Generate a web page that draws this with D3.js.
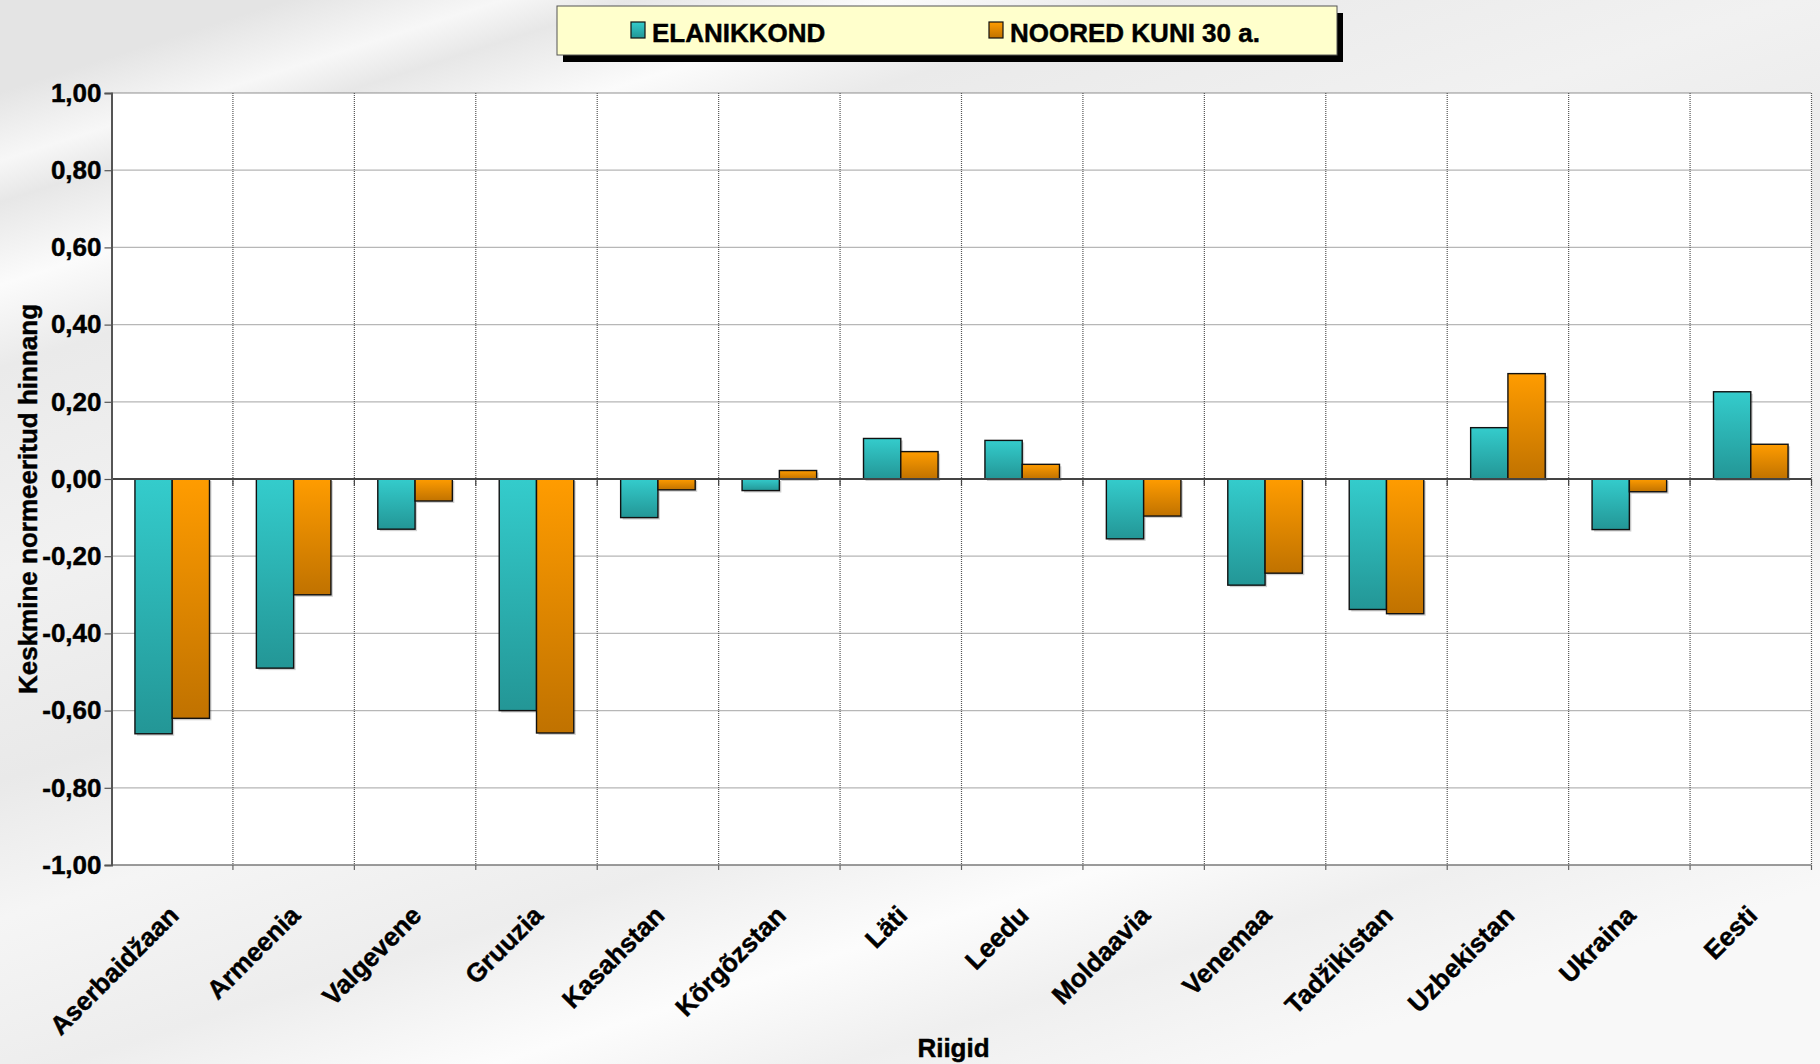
<!DOCTYPE html>
<html>
<head>
<meta charset="utf-8">
<script src="https://cdn.jsdelivr.net/npm/d3@7"></script>
<style>
  html, body { margin: 0; padding: 0; background: #f2f2f2; }
  svg { display: block; font-family: "Liberation Sans", Arial, sans-serif; }
  .lbl { stroke: #000; stroke-width: 0.45px; }
</style>
</head>
<body>
<div id="chart"></div>
<script>
const categories = ['Aserbaidžaan', 'Armeenia', 'Valgevene', 'Gruuzia', 'Kasahstan', 'Kõrgõzstan', 'Läti',
    'Leedu', 'Moldaavia', 'Venemaa', 'Tadžikistan', 'Uzbekistan', 'Ukraina', 'Eesti'];
const seriesNames = ['ELANIKKOND', 'NOORED KUNI 30 a.'];
const elanikkond = [-0.66, -0.49, -0.13, -0.60, -0.10, -0.03, 0.105, 0.10, -0.155, -0.275, -0.338, 0.133, -0.131, 0.226];
const noored = [-0.62, -0.30, -0.057, -0.658, -0.028, 0.022, 0.071, 0.038, -0.096, -0.244, -0.349, 0.273, -0.033, 0.090];
const yTicks = [-1, -0.8, -0.6, -0.4, -0.2, 0, 0.2, 0.4, 0.6, 0.8, 1];

const W = 1820, H = 1064;
const plot = { left: 111.5, right: 1811.5, top: 93, bottom: 865 };

const svg = d3.select('#chart').append('svg').attr('width', W).attr('height', H);
const defs = svg.append('defs');

// background with soft diagonal streaks
const bg = defs.append('linearGradient').attr('id', 'bg').attr('gradientUnits', 'userSpaceOnUse')
    .attr('x1', 600).attr('y1', -100).attr('x2', 1000).attr('y2', 1150);
[[0, '#e4e4e4'], [0.05, '#f7f7f7'], [0.08, '#e7e7e7'], [0.14, '#fbfbfb'], [0.2, '#eaeaea'],
 [0.35, '#f1f1f1'], [0.5, '#e9e9e9'], [0.6, '#f5f5f5'], [0.72, '#ededed'], [0.82, '#fcfcfc'],
 [0.9, '#efefef'], [1, '#f8f8f8']].forEach(s => bg.append('stop').attr('offset', s[0]).attr('stop-color', s[1]));
svg.append('rect').attr('width', W).attr('height', H).attr('fill', 'url(#bg)');

function grad(id, top, bottom) {
    const g = defs.append('linearGradient').attr('id', id).attr('x1', 0).attr('y1', 0).attr('x2', 0).attr('y2', 1);
    g.append('stop').attr('offset', 0).attr('stop-color', top);
    g.append('stop').attr('offset', 1).attr('stop-color', bottom);
}
grad('g0', '#34cccc', '#239696');
grad('g1', '#ff9c00', '#c07200');
const fills = ['url(#g0)', 'url(#g1)'];

const x = d3.scaleBand().domain(categories).range([plot.left, plot.right]).padding(0);
const bw = x.bandwidth();
const x1 = d3.scaleBand().domain(seriesNames).range([bw * 0.193, bw * 0.807]).padding(0);
const y = d3.scaleLinear().domain([-1, 1]).range([plot.bottom, plot.top]);

const loc = d3.formatLocale({ decimal: ',', thousands: ' ', grouping: [3], currency: ['', ''], minus: '-' });
const fmt = loc.format('.2f');

// plot area
svg.append('rect').attr('x', plot.left).attr('y', plot.top)
    .attr('width', plot.right - plot.left).attr('height', plot.bottom - plot.top).attr('fill', '#fff');

// horizontal grid
svg.append('g').selectAll('line').data(yTicks.filter(d => d !== 0 && d !== -1)).join('line')
    .attr('x1', plot.left).attr('x2', plot.right).attr('y1', d => y(d)).attr('y2', d => y(d))
    .attr('stroke', '#6e6e6e').attr('stroke-width', 1.3).attr('stroke-dasharray', '1,1');

// vertical grid at category boundaries
const bounds = categories.slice(1).map(c => x(c)).concat([plot.right]);
svg.append('g').selectAll('line').data(bounds).join('line')
    .attr('x1', d => d).attr('x2', d => d).attr('y1', plot.top).attr('y2', plot.bottom)
    .attr('stroke', '#555').attr('stroke-width', 1.2).attr('stroke-dasharray', '1,1');

// bottom border
svg.append('line').attr('x1', plot.left).attr('x2', plot.right).attr('y1', plot.bottom).attr('y2', plot.bottom)
    .attr('stroke', '#7a7a7a').attr('stroke-width', 1.6);

// bars
const rows = categories.map((c, i) => ({ c, v: [elanikkond[i], noored[i]] }));
const groups = svg.append('g').selectAll('g').data(rows).join('g')
    .attr('transform', d => `translate(${x(d.c)},0)`);
const bars = groups.selectAll('g').data(d => d.v.map((v, k) => ({ v, k }))).join('g');
bars.append('rect')
    .attr('x', d => x1(seriesNames[d.k]) + 2).attr('y', d => Math.min(y(d.v), y(0)) + 2)
    .attr('width', x1.bandwidth()).attr('height', d => Math.abs(y(d.v) - y(0)))
    .attr('fill', '#000').attr('opacity', 0.18);
bars.append('rect')
    .attr('x', d => x1(seriesNames[d.k])).attr('y', d => Math.min(y(d.v), y(0)))
    .attr('width', x1.bandwidth()).attr('height', d => Math.abs(y(d.v) - y(0)))
    .attr('fill', d => fills[d.k]).attr('stroke', '#111').attr('stroke-width', 1.4);

// zero axis with ticks
const xAxis = svg.append('g').attr('transform', `translate(0,${y(0)})`);
xAxis.append('line').attr('x1', plot.left).attr('x2', plot.right).attr('stroke', '#444').attr('stroke-width', 2);
xAxis.selectAll('.tk').data(bounds).join('line').attr('class', 'tk')
    .attr('x1', d => d).attr('x2', d => d).attr('y1', 0).attr('y2', 7).attr('stroke', '#444').attr('stroke-width', 1.2);
svg.append('g').selectAll('line').data(bounds).join('line')
    .attr('x1', d => d).attr('x2', d => d).attr('y1', plot.bottom).attr('y2', plot.bottom + 5)
    .attr('stroke', '#666').attr('stroke-width', 1.2);

// y axis
const yAxis = svg.append('g').attr('transform', `translate(${plot.left},0)`)
    .call(d3.axisLeft(y).tickValues(yTicks).tickSize(7).tickPadding(3).tickFormat(fmt));
yAxis.select('.domain').attr('stroke', '#555').attr('stroke-width', 2);
yAxis.selectAll('.tick line').attr('stroke', '#555').attr('stroke-width', 1.2);
yAxis.selectAll('.tick text').attr('class', 'lbl').attr('font-size', 26).attr('font-weight', 'bold').attr('fill', '#000')
    .attr('font-family', '"Liberation Sans", Arial, sans-serif');

// category labels
svg.append('g').selectAll('text').data(categories).join('text').attr('class', 'lbl')
    .attr('transform', d => `translate(${x(d) + bw / 2 + 8},${plot.bottom + 52}) rotate(-45)`)
    .attr('text-anchor', 'end').attr('font-size', 26).attr('font-weight', 'bold').attr('fill', '#000')
    .text(d => d);

// axis titles
svg.append('text').attr('class', 'lbl').attr('x', (plot.left + plot.right) / 2 - 8).attr('y', 1057)
    .attr('text-anchor', 'middle').attr('font-size', 26).attr('font-weight', 'bold').text('Riigid');
svg.append('text').attr('class', 'lbl').attr('transform', `translate(37,${(plot.top + plot.bottom) / 2 + 20}) rotate(-90)`)
    .attr('text-anchor', 'middle').attr('font-size', 26).attr('font-weight', 'bold').text('Keskmine normeeritud hinnang');

// legend
const lg = { x: 557, y: 6, w: 780, h: 49 };
svg.append('rect').attr('x', lg.x + 6).attr('y', lg.y + 7).attr('width', lg.w).attr('height', lg.h).attr('fill', '#000');
svg.append('rect').attr('x', lg.x).attr('y', lg.y).attr('width', lg.w).attr('height', lg.h)
    .attr('fill', '#ffffcc').attr('stroke', '#555').attr('stroke-width', 1);
const items = svg.append('g').selectAll('g').data(seriesNames).join('g')
    .attr('transform', (d, i) => `translate(${lg.x + 74 + i * 358},${lg.y + 16})`);
items.append('rect').attr('width', 14).attr('height', 16).attr('fill', (d, i) => fills[i])
    .attr('stroke', '#111').attr('stroke-width', 1.2);
items.append('text').attr('class', 'lbl').attr('x', 21).attr('y', 20).attr('font-size', 26).attr('font-weight', 'bold').text(d => d);
</script>
</body>
</html>
